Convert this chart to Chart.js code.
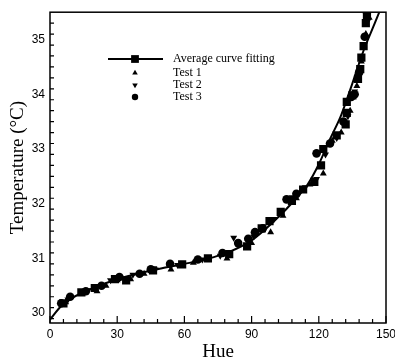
<!DOCTYPE html>
<html>
<head>
<meta charset="utf-8">
<script src="https://cdn.jsdelivr.net/npm/chart.js@4.4.1/dist/chart.umd.min.js"></script>
<style>
  body { margin: 0; background: #fff; }
  #wrap { width: 395px; height: 363px; }
</style>
</head>
<body>
<div id="wrap"><canvas id="hueChart" width="395" height="363"></canvas></div>
<script>
// hue / temperature readings taken off the figure
var fitHue  = [0, 5, 10, 20, 30, 40, 50, 60, 70, 80, 90, 100, 110, 115, 120, 125, 130, 135, 140, 145, 147];
var fitTemp = [29.88, 30.13, 30.28, 30.47, 30.62, 30.73, 30.82, 30.9, 30.99, 31.12, 31.33, 31.68, 32.1, 32.35, 32.72, 33.18, 33.62, 34.2, 34.8, 35.3, 35.5];

var avgHue  = [6, 14, 20, 29, 34, 46, 59, 70.5, 80, 88, 94.5, 98, 103, 108, 113, 118, 121, 122, 128, 132, 132.5, 132.5, 135, 137.5, 138.5, 139, 140, 141, 141.5];
var avgTemp = [30.18, 30.38, 30.46, 30.62, 30.6, 30.78, 30.89, 31.0, 31.08, 31.22, 31.55, 31.68, 31.85, 32.05, 32.26, 32.4, 32.7, 33.0, 33.25, 33.45, 33.66, 33.86, 33.98, 34.28, 34.46, 34.67, 34.88, 35.3, 35.45];

var test1Hue  = [7, 15, 21, 25, 30, 36, 42, 54, 64, 79, 90, 98.5, 104, 110, 116, 122, 126, 130, 134, 137, 139, 141, 142.5];
var test1Temp = [30.2, 30.37, 30.4, 30.5, 30.6, 30.62, 30.72, 30.8, 30.92, 31.0, 31.28, 31.48, 31.78, 32.1, 32.35, 32.55, 33.15, 33.3, 33.7, 34.15, 34.6, 35.1, 35.4];

var test2Hue  = [8, 17, 27, 37, 47, 57, 68, 76, 82, 91, 100, 108, 114, 119, 123, 128, 133, 136, 138.5, 140, 142];
var test2Temp = [30.25, 30.42, 30.6, 30.7, 30.8, 30.88, 30.98, 31.05, 31.38, 31.4, 31.72, 32.12, 32.3, 32.45, 32.9, 33.2, 33.6, 34.05, 34.5, 34.9, 35.35];

var test3Hue  = [5, 9, 16, 23, 31, 40, 45, 53.6, 66, 77, 84, 88.5, 91.5, 95, 105.6, 110, 119, 125, 131, 134.5, 136, 138, 140.5, 141.5];
var test3Temp = [30.18, 30.3, 30.4, 30.5, 30.66, 30.72, 30.8, 30.9, 30.98, 31.1, 31.28, 31.36, 31.48, 31.55, 32.08, 32.18, 32.92, 33.1, 33.5, 33.95, 34.0, 34.4, 35.05, 35.5];

var xTicks = [0, 30, 60, 90, 120, 150];
var yTicks = [30, 31, 32, 33, 34, 35];

function pts(xs, ys) {
    return xs.map(function (x, i) { return { x: x, y: ys[i] }; });
}

// frame, inward ticks and the inside legend
var framePlugin = {
    id: 'frame',
    afterDraw: function (chart) {
        var ctx = chart.ctx, a = chart.chartArea;
        var xs = chart.scales.x, ys = chart.scales.y;
        ctx.save();
        ctx.strokeStyle = '#000';
        ctx.lineWidth = 1.5;
        ctx.strokeRect(a.left, a.top, a.right - a.left, a.bottom - a.top);
        ctx.lineWidth = 1.2;
        ctx.beginPath();
        for (var h = 0; h <= 150; h += 6) {
            var px = xs.getPixelForValue(h);
            var len = (h % 30 === 0) ? 7 : 4;
            ctx.moveTo(px, a.bottom);
            ctx.lineTo(px, a.bottom - len);
        }
        for (var k = 0; k <= 27; k++) {
            var t = Math.round((29.9 + k * 0.2) * 10) / 10;
            if (t < ys.min || t > ys.max) continue;
            var py = ys.getPixelForValue(t);
            var major = Math.abs(t - Math.round(t)) < 0.01;
            ctx.moveTo(a.left, py);
            ctx.lineTo(a.left + (major ? 8 : 4), py);
        }
        ctx.stroke();

        // legend
        var lx = 135, rows = [59, 73, 85, 97];
        ctx.fillStyle = '#000';
        ctx.lineWidth = 2;
        ctx.beginPath();
        ctx.moveTo(108, rows[0]);
        ctx.lineTo(163, rows[0]);
        ctx.stroke();
        var ds = chart.data.datasets;
        var items = [ds[1], ds[2], ds[3], ds[4]];
        var sizes = [5.5, 3.2, 3.2, 3.2];
        items.forEach(function (d, i) {
            Chart.helpers.drawPoint(ctx, {
                pointStyle: d.pointStyle,
                radius: sizes[i],
                rotation: d.rotation || 0,
                borderWidth: 0
            }, lx, rows[i]);
        });
        ctx.font = '12px "Liberation Serif", "Times New Roman", serif';
        ctx.textBaseline = 'middle';
        ctx.fillText('Average curve fitting', 173, rows[0]);
        ctx.fillText('Test 1', 173, rows[1]);
        ctx.fillText('Test 2', 173, rows[2]);
        ctx.fillText('Test 3', 173, rows[3]);
        ctx.restore();
    }
};

var chartCtx = document.getElementById('hueChart').getContext('2d');
var hueChart = new Chart(chartCtx, {
    type: 'scatter',
    data: {
        datasets: [
            {
                label: 'fit',
                data: pts(fitHue, fitTemp),
                showLine: true,
                borderColor: '#000',
                borderWidth: 2,
                pointRadius: 0,
                tension: 0.4,
                cubicInterpolationMode: 'monotone',
                order: 0
            },
            {
                label: 'Average curve fitting',
                data: pts(avgHue, avgTemp),
                pointStyle: 'rect',
                pointRadius: 5.8,
                backgroundColor: '#000',
                borderColor: '#000',
                borderWidth: 0
            },
            {
                label: 'Test 1',
                data: pts(test1Hue, test1Temp),
                pointStyle: 'triangle',
                pointRadius: 4,
                backgroundColor: '#000',
                borderColor: '#000',
                borderWidth: 0
            },
            {
                label: 'Test 2',
                data: pts(test2Hue, test2Temp),
                pointStyle: 'triangle',
                rotation: 180,
                pointRotation: 180,
                pointRadius: 4,
                backgroundColor: '#000',
                borderColor: '#000',
                borderWidth: 0
            },
            {
                label: 'Test 3',
                data: pts(test3Hue, test3Temp),
                pointStyle: 'circle',
                pointRadius: 4.3,
                backgroundColor: '#000',
                borderColor: '#000',
                borderWidth: 0
            }
        ]
    },
    options: {
        responsive: false,
        animation: false,
        layout: { padding: { top: 8, right: 0, left: 4, bottom: 0 } },
        plugins: {
            legend: { display: false },
            tooltip: { enabled: false }
        },
        scales: {
            x: {
                type: 'linear',
                min: 0,
                max: 150,
                afterBuildTicks: function (s) { s.ticks = xTicks.map(function (v) { return { value: v }; }); },
                afterFit: function (s) { s.height = 40; s.paddingRight = 9; s.paddingLeft = 0; },
                grid: { display: false, drawTicks: false, tickLength: 0 },
                border: { display: false },
                ticks: {
                    color: '#000',
                    padding: 4,
                    maxRotation: 0,
                    font: { family: '"Liberation Sans", Arial, sans-serif', size: 12 }
                },
                title: {
                    display: true,
                    text: 'Hue',
                    color: '#000',
                    padding: { top: 0, bottom: 0 },
                    font: { family: '"Liberation Serif", "Times New Roman", serif', size: 19 }
                }
            },
            y: {
                type: 'linear',
                min: 29.82,
                max: 35.5,
                afterBuildTicks: function (s) { s.ticks = yTicks.map(function (v) { return { value: v }; }); },
                afterFit: function (s) { s.width = 46; },
                grid: { display: false, drawTicks: false, tickLength: 0 },
                border: { display: false },
                ticks: {
                    color: '#000',
                    padding: 5,
                    font: { family: '"Liberation Sans", Arial, sans-serif', size: 12 }
                },
                title: {
                    display: true,
                    text: 'Temperature (°C)',
                    color: '#000',
                    padding: { top: 3, bottom: 0 },
                    font: { family: '"Liberation Serif", "Times New Roman", serif', size: 19 }
                }
            }
        }
    },
    plugins: [framePlugin]
});
</script>
</body>
</html>
